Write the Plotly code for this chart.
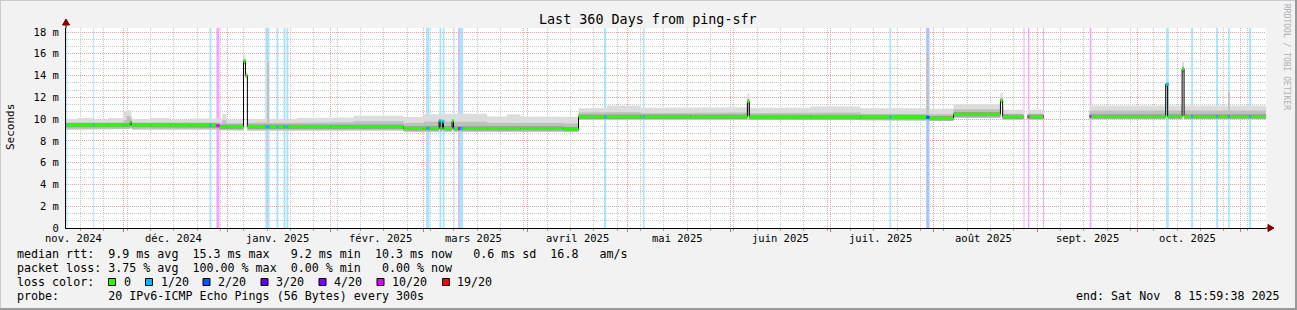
import plotly.graph_objects as go

# ---------------- data ----------------
X_START = "2024-11-13 16:00"
X_END = "2025-11-08 16:00"

SEG_START = [
    "2024-11-13 16:00", "2024-11-17 00:00", "2024-11-22 00:00", "2024-11-26 12:00",
    "2024-11-30 22:00", "2024-12-01 20:00", "2024-12-02 22:00", "2024-12-03 08:00",
    "2024-12-09 00:00", "2024-12-15 00:00", "2024-12-21 00:00", "2024-12-28 19:00",
    "2024-12-29 17:00", "2024-12-30 14:00", "2024-12-31 19:00", "2025-01-05 22:00",
    "2025-01-06 12:00", "2025-01-07 02:00", "2025-01-12 17:00", "2025-01-13 00:00",
    "2025-01-13 14:00", "2025-01-22 00:00", "2025-02-01 00:00", "2025-02-08 00:00",
    "2025-02-22 22:00", "2025-03-01 00:00", "2025-03-05 14:00", "2025-03-05 22:00",
    "2025-03-06 14:00", "2025-03-06 22:00", "2025-03-09 12:00", "2025-03-09 22:00",
    "2025-03-20 00:00", "2025-03-26 00:00", "2025-03-30 00:00", "2025-04-12 00:00",
    "2025-04-16 10:00", "2025-04-25 00:00", "2025-05-05 00:00", "2025-05-20 00:00",
    "2025-06-06 02:00", "2025-06-06 16:00", "2025-06-25 00:00", "2025-07-10 00:00",
    "2025-07-19 00:00", "2025-07-29 19:00", "2025-07-30 12:00", "2025-08-06 22:00",
    "2025-08-21 00:00", "2025-08-21 16:00", "2025-08-27 22:00", "2025-08-29 02:00",
    "2025-09-02 22:00", "2025-09-16 17:00", "2025-10-09 14:00", "2025-10-10 04:00",
    "2025-10-14 12:00", "2025-10-15 02:00", "2025-10-28 07:00", "2025-10-28 19:00",
]
SEG_LAST_END = "2025-11-08 16:00"

# median rtt (ms) per segment, None = no data
MEDIAN = [
    9.45, 9.45, 9.45, 9.45, 9.45, 9.45, 9.70, 9.45, 9.45, 9.45, 9.45, 9.40,
    9.30, 9.30, 9.30, 15.30, 14.00, 9.30, 9.30, 9.30, 9.30, 9.30, 9.30, 9.30,
    9.15, 9.15, 9.85, 9.15, 9.75, 9.15, 9.80, 9.15, 9.15, 9.15, 9.15, 9.08,
    10.22, 10.22, 10.22, 10.22, 11.60, 10.20, 10.20, 10.20, 10.17, 10.17, 10.08, 10.45,
    11.70, 10.22, None, 10.22, None, 10.25, 13.20, 10.25, 14.60, 10.25, 10.25, 10.25,
]
# smoke: lowest ping, upper edge of the denser band, highest ping (ms)
SMOKE_LO = [
    9.05, 9.05, 9.05, 9.05, 9.05, 9.10, 9.20, 9.05, 9.05, 9.05, 9.05, 9.00,
    8.95, 8.95, 8.95, 15.05, 13.85, 8.95, 8.95, 8.95, 8.95, 8.95, 8.95, 8.95,
    8.85, 8.85, 9.00, 8.85, 9.00, 8.85, 9.00, 8.85, 8.85, 8.85, 8.85, 8.85,
    9.95, 9.95, 9.95, 9.95, 10.30, 9.93, 9.93, 9.90, 9.88, 9.88, 9.85, 10.10,
    11.50, 9.95, None, 9.95, None, 10.00, 13.00, 10.00, 14.30, 10.00, 10.00, 10.00,
]
SMOKE_MID = [
    9.68, 9.70, 9.65, 9.70, 9.90, 10.30, 10.20, 9.68, 9.70, 9.65, 9.70, 9.70,
    9.62, 9.90, 9.62, 15.50, 14.15, 9.65, 9.70, 15.30, 9.65, 9.70, 9.72, 9.80,
    9.65, 9.75, 10.00, 9.80, 10.00, 9.75, 10.00, 9.75, 9.65, 9.70, 9.65, 9.60,
    10.60, 10.65, 10.55, 10.60, 11.90, 10.55, 10.60, 10.50, 10.50, 16.20, 10.45, 10.90,
    11.90, 10.50, None, 10.50, None, 10.80, 13.25, 10.80, 14.80, 10.80, 12.50, 10.80,
]
SMOKE_HI = [
    10.00, 10.10, 9.95, 10.10, 10.75, 10.85, 10.80, 10.00, 10.10, 9.95, 10.05, 10.05,
    9.95, 10.50, 9.95, 15.90, 14.30, 10.00, 15.40, 15.40, 10.00, 10.10, 10.15, 10.30,
    10.20, 10.45, 10.60, 10.50, 10.60, 10.50, 10.50, 10.50, 10.25, 10.45, 10.25, 10.20,
    11.00, 11.25, 11.05, 11.10, 12.40, 11.05, 11.15, 11.00, 11.00, 16.20, 10.95, 11.35,
    12.40, 10.85, None, 10.85, None, 11.25, 13.30, 11.25, 15.30, 11.25, 12.50, 11.25,
]

# periods with packet loss (index into LOSS_LEVELS)
LOSS_START = [
    "2024-11-13 19:00", "2024-11-21 20:00", "2024-12-26 17:00", "2024-12-28 19:00",
    "2025-01-12 11:00", "2025-01-15 19:00", "2025-01-17 22:00", "2025-01-18 19:00",
    "2025-03-01 17:00", "2025-03-05 17:00", "2025-03-06 17:00", "2025-03-10 00:00",
    "2025-03-11 08:00", "2025-03-11 19:00", "2025-04-24 02:00", "2025-05-05 19:00",
    "2025-07-18 17:00", "2025-07-29 17:00", "2025-08-27 22:00", "2025-08-29 07:00",
    "2025-09-02 19:00", "2025-09-16 19:00", "2025-10-09 17:00", "2025-10-17 05:00",
    "2025-10-24 17:00", "2025-10-28 07:00", "2025-11-03 14:00",
]
LOSS_END = [
    "2024-11-14 02:00", "2024-11-22 02:00", "2024-12-27 07:00", "2024-12-29 17:00",
    "2025-01-13 17:00", "2025-01-16 09:00", "2025-01-18 12:00", "2025-01-19 09:00",
    "2025-03-02 17:00", "2025-03-06 07:00", "2025-03-07 05:00", "2025-03-10 05:00",
    "2025-03-11 19:00", "2025-03-12 20:00", "2025-04-24 17:00", "2025-05-06 05:00",
    "2025-07-19 05:00", "2025-07-30 17:00", "2025-08-28 05:00", "2025-08-29 17:00",
    "2025-09-03 02:00", "2025-09-17 07:00", "2025-10-10 12:00", "2025-10-17 19:00",
    "2025-10-25 07:00", "2025-10-28 19:00", "2025-11-04 05:00",
]
LOSS_CAT = [1, 1, 1, 5, 1, 1, 1, 1, 1, 1, 1, 1, 4, 1, 1, 1, 1, 2, 5, 5, 5, 5, 1, 1, 1, 1, 1]

LOSS_LEVELS = ["0", "1/20", "2/20", "3/20", "4/20", "10/20", "19/20"]
LOSS_COLORS = ["#26ff00", "#00b8ff", "#0059ff", "#5e00ff", "#7e00ff", "#dd00ff", "#ff0000"]

MONTH_STARTS = ["2024-12-01", "2025-01-01", "2025-02-01", "2025-03-01", "2025-04-01",
                "2025-05-01", "2025-06-01", "2025-07-01", "2025-08-01", "2025-09-01",
                "2025-10-01", "2025-11-01"]
MONTH_LABEL_AT = ["2024-11-16", "2024-12-16", "2025-01-16", "2025-02-16", "2025-03-16",
                  "2025-04-16", "2025-05-16", "2025-06-16", "2025-07-16", "2025-08-16",
                  "2025-09-16", "2025-10-16"]
MONTH_LABELS = ["nov. 2024", "déc. 2024", "janv. 2025", "févr. 2025", "mars 2025",
                "avril 2025", "mai 2025", "juin 2025", "juil. 2025", "août 2025",
                "sept. 2025", "oct. 2025"]

Y_TICKS = [0, 2, 4, 6, 8, 10, 12, 14, 16, 18]
Y_TICK_TEXT = ["0", "2 m", "4 m", "6 m", "8 m", "10 m", "12 m", "14 m", "16 m", "18 m"]

TITLE = "Last 360 Days from ping-sfr"
LINE_RTT = "median rtt:  9.9 ms avg  15.3 ms max   9.2 ms min  10.3 ms now   0.6 ms sd  16.8   am/s"
LINE_LOSS = "packet loss: 3.75 % avg  100.00 % max  0.00 % min   0.00 % now"
LINE_PROBE = "probe:       20 IPv6-ICMP Echo Pings (56 Bytes) every 300s"
LINE_END = "end: Sat Nov  8 15:59:38 2025"

# ---------------- layout constants ----------------
W, H = 1297, 310
L, R, T, B = 66, 31, 28, 82
PW, PH = W - L - R, H - T - B
Y_TOP = 18.37
FONT = "DejaVu Sans Mono"


def xp(px):
    return (px - L) / PW


def yp(py):
    return (H - B - py) / PH


def light(hex_color, a=0.35):
    r, g, b = int(hex_color[1:3], 16), int(hex_color[3:5], 16), int(hex_color[5:7], 16)
    return "rgb(%d,%d,%d)" % (round(r * a + 255 * (1 - a)), round(g * a + 255 * (1 - a)),
                              round(b * a + 255 * (1 - a)))


seg_t = SEG_START + [SEG_LAST_END]
N = len(MEDIAN)

runs, cur = [], []
for i in range(N):
    if MEDIAN[i] is None:
        if cur:
            runs.append(cur)
        cur = []
    else:
        cur.append(i)
if cur:
    runs.append(cur)


def band(lows, highs):
    xs, ys = [], []
    for run in runs:
        for i in run:
            xs += [seg_t[i], seg_t[i + 1]]
            ys += [highs[i], highs[i]]
        for i in reversed(run):
            xs += [seg_t[i + 1], seg_t[i]]
            ys += [lows[i], lows[i]]
        xs.append(None)
        ys.append(None)
    return xs, ys


fig = go.Figure()

# loss background bars
for t0, t1, c in zip(LOSS_START, LOSS_END, LOSS_CAT):
    fig.add_vrect(x0=t0, x1=t1, fillcolor=light(LOSS_COLORS[c]), opacity=1,
                  line_width=0, layer="below")

# smoke
dark_lo = [None if m is None else max(lo, m - 0.2) for m, lo in zip(MEDIAN, SMOKE_LO)]
dark_hi = [None if m is None else min(md, m + 0.2) for m, md in zip(MEDIAN, SMOKE_MID)]
for lows, highs, col in [(SMOKE_LO, SMOKE_HI, "#dcdcdc"),
                         (SMOKE_LO, SMOKE_MID, "#bfbfbf"),
                         (dark_lo, dark_hi, "#9c9c9c")]:
    bx, by = band(lows, highs)
    fig.add_trace(go.Scatter(x=bx, y=by, mode="lines", fill="toself", fillcolor=col,
                             line=dict(width=0, color=col), hoverinfo="skip"))

# median: black step line
mx, my = [], []
for run in runs:
    for i in run:
        mx += [seg_t[i], seg_t[i + 1]]
        my += [MEDIAN[i], MEDIAN[i]]
    mx.append(None)
    my.append(None)
fig.add_trace(go.Scatter(x=mx, y=my, mode="lines", line=dict(color="#000000", width=1),
                         hoverinfo="skip"))

# median: loss-coloured pieces (0 loss everywhere)
gx, gy = [], []
for i in range(N):
    if MEDIAN[i] is not None:
        gx += [seg_t[i], seg_t[i + 1], None]
        gy += [MEDIAN[i], MEDIAN[i], None]
fig.add_trace(go.Scatter(x=gx, y=gy, mode="lines", line=dict(color=LOSS_COLORS[0], width=3),
                         hoverinfo="skip"))


def median_at(t0, t1):
    mid = t0 if t0 >= t1 else t0  # string compare on ISO dates
    for i in range(N):
        if seg_t[i] <= t0 < seg_t[i + 1]:
            return MEDIAN[i]
    return None


for c in sorted(set(LOSS_CAT)):
    cx, cy = [], []
    for t0, t1, cc in zip(LOSS_START, LOSS_END, LOSS_CAT):
        if cc != c:
            continue
        m = median_at(t0, t1)
        if m is None:
            continue
        cx += [t0, t1, None]
        cy += [m, m, None]
    fig.add_trace(go.Scatter(x=cx, y=cy, mode="lines", line=dict(color=LOSS_COLORS[c], width=3),
                             hoverinfo="skip"))

MGRID = "#e9a3a3"
GRID = "#c8c8c8"
DOT = "1px,1px"

fig.update_xaxes(type="date", range=[X_START, X_END], tickmode="array", tickvals=MONTH_STARTS,
                 showticklabels=False, showgrid=True, gridcolor=MGRID, griddash=DOT, gridwidth=1,
                 ticks="outside", ticklen=3, tickcolor="#e07070",
                 minor=dict(tickmode="linear", tick0="2024-11-18", dtick=7 * 86400000,
                            showgrid=True, gridcolor=GRID, griddash=DOT, gridwidth=1,
                            ticks="outside", ticklen=2, tickcolor="#a0a0a0"),
                 showline=True, linecolor="#000000", linewidth=1, zeroline=False, fixedrange=True)
fig.update_yaxes(range=[0, Y_TOP], tickmode="array", tickvals=Y_TICKS, ticktext=Y_TICK_TEXT,
                 showgrid=True, gridcolor=MGRID, griddash=DOT, gridwidth=1,
                 minor=dict(tickmode="linear", tick0=0, dtick=2 / 3, showgrid=True,
                            gridcolor=GRID, griddash=DOT, gridwidth=1),
                 ticks="", ticklabelstandoff=4,
                 tickfont=dict(family=FONT, size=10.5, color="#000000"),
                 showline=True, linecolor="#000000", linewidth=1, zeroline=False, fixedrange=True)

ann = []
ann.append(dict(text=TITLE, x=xp(648), y=yp(19), xref="paper", yref="paper", showarrow=False,
                font=dict(family=FONT, size=13.4, color="#000000"), xanchor="center",
                yanchor="middle"))
ann.append(dict(text="Seconds", x=xp(10), y=yp(127), xref="paper", yref="paper",
                showarrow=False, textangle=-90, font=dict(family=FONT, size=11, color="#000000"),
                xanchor="center", yanchor="middle"))
ann.append(dict(text="RRDTOOL / TOBI OETIKER", x=xp(1287), y=yp(57), xref="paper",
                yref="paper", showarrow=False, textangle=90,
                font=dict(family=FONT, size=8, color="#b0b0b0"), xanchor="center",
                yanchor="middle"))
for d, lab in zip(MONTH_LABEL_AT, MONTH_LABELS):
    ann.append(dict(text=lab, x=d, y=yp(238), xref="x", yref="paper", showarrow=False,
                    font=dict(family=FONT, size=10.5, color="#000000"), xanchor="center",
                    yanchor="middle"))
LEG = dict(family=FONT, size=11.66, color="#000000")
for txt, py in [(LINE_RTT, 254), (LINE_LOSS, 268), ("loss color:", 282), (LINE_PROBE, 296)]:
    ann.append(dict(text=txt.replace(" ", "&nbsp;"), x=xp(14.5), y=yp(py), xref="paper",
                    yref="paper", showarrow=False, font=LEG, xanchor="left", yanchor="middle"))
ann.append(dict(text=LINE_END.replace(" ", "&nbsp;"), x=xp(1282), y=yp(296), xref="paper",
                yref="paper", showarrow=False, font=LEG, xanchor="right", yanchor="middle"))

BOX_LEFT = [108.5, 145.5, 203, 261, 319, 377, 442.5]
LABEL_LEFT = [121.5, 158.5, 215.5, 273.5, 331.5, 390, 455]
shapes = []
for k, lab in enumerate(LOSS_LEVELS):
    shapes.append(dict(type="rect", xref="paper", yref="paper", x0=xp(BOX_LEFT[k]),
                       x1=xp(BOX_LEFT[k] + 7), y0=yp(285.5), y1=yp(278.5),
                       fillcolor=LOSS_COLORS[k], line=dict(color="#000000", width=1)))
    ann.append(dict(text=lab, x=xp(LABEL_LEFT[k]), y=yp(282), xref="paper", yref="paper",
                    showarrow=False, font=LEG, xanchor="left", yanchor="middle"))

# axis extensions and arrow heads
ARROW = "#7f0000"
shapes.append(dict(type="line", xref="paper", yref="paper", x0=1, x1=xp(1268), y0=0, y1=0,
                   line=dict(color="#000000", width=1)))
shapes.append(dict(type="path", xref="paper", yref="paper",
                   path="M %f,%f L %f,%f L %f,%f Z" % (xp(1268), yp(224.5), xp(1274), yp(228),
                                                       xp(1268), yp(231.5)),
                   fillcolor=ARROW, line=dict(color=ARROW, width=1)))
shapes.append(dict(type="line", xref="paper", yref="paper", x0=0, x1=0, y0=1, y1=yp(25),
                   line=dict(color="#000000", width=1)))
shapes.append(dict(type="path", xref="paper", yref="paper",
                   path="M %f,%f L %f,%f L %f,%f Z" % (xp(62.5), yp(25), xp(66), yp(19),
                                                       xp(69.5), yp(25)),
                   fillcolor=ARROW, line=dict(color=ARROW, width=1)))
# outer frame
shapes.append(dict(type="line", xref="paper", yref="paper", x0=xp(0), x1=xp(W), y0=yp(0.5),
                   y1=yp(0.5), line=dict(color="#cbcbcb", width=1)))
shapes.append(dict(type="line", xref="paper", yref="paper", x0=xp(0.5), x1=xp(0.5), y0=yp(0),
                   y1=yp(H), line=dict(color="#cbcbcb", width=1)))
shapes.append(dict(type="line", xref="paper", yref="paper", x0=xp(0), x1=xp(W), y0=yp(H - 1),
                   y1=yp(H - 1), line=dict(color="#999999", width=2)))
shapes.append(dict(type="line", xref="paper", yref="paper", x0=xp(W - 1), x1=xp(W - 1),
                   y0=yp(0), y1=yp(H), line=dict(color="#999999", width=2)))

fig.update_layout(width=W, height=H, margin=dict(l=L, r=R, t=T, b=B, pad=0),
                  paper_bgcolor="#f2f2f2", plot_bgcolor="#ffffff", showlegend=False,
                  hovermode=False, font=dict(family=FONT, color="#000000"),
                  annotations=ann)
for s in shapes:
    fig.add_shape(**s)

fig.write_html("out.html", config={"displayModeBar": False})
